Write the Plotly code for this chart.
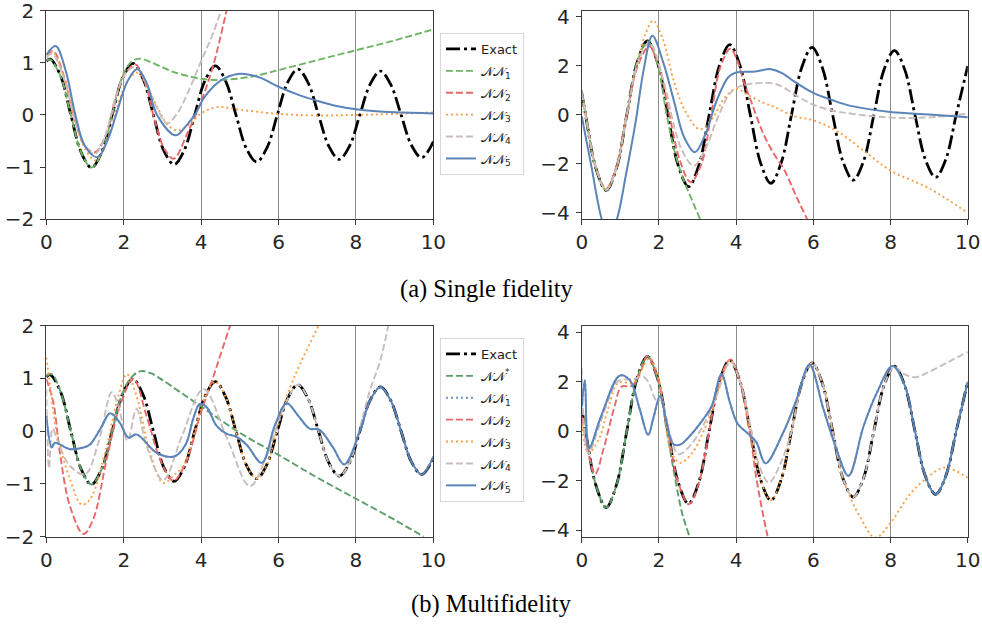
import plotly.graph_objects as go

# ---------------- data ----------------
x_exact = [0.0, 0.1, 0.367, 0.633, 0.9, 1.167, 1.433, 1.7, 1.967, 2.233, 2.5, 2.767, 3.033, 3.3,
           3.567, 3.833, 4.1, 4.367, 4.633, 4.9, 5.167, 5.433, 5.7, 5.967, 6.233, 6.5, 6.767,
           7.033, 7.3, 7.567, 7.833, 8.1, 8.367, 8.633, 8.9, 9.167, 9.433, 9.7, 10.0]
pos_exact = [1.03, 1.07, 0.75, 0.0, -0.72, -1.01, -0.71, 0.0, 0.70, 0.99, 0.69, 0.0, -0.68, -0.95,
             -0.67, 0.0, 0.66, 0.94, 0.65, 0.0, -0.64, -0.90, -0.63, 0.0, 0.62, 0.88, 0.61,
             0.0, -0.60, -0.85, -0.60, 0.0, 0.59, 0.84, 0.58, 0.0, -0.58, -0.82, -0.51]
vel_exact = [0.9, 0.0, -2.18, -3.08, -2.17, 0.0, 2.13, 3.02, 2.12, 0.0, -2.07, -2.93, -2.06, 0.0,
             2.02, 2.87, 2.01, 0.0, -1.96, -2.79, -1.95, 0.0, 1.94, 2.76, 1.93, 0.0, -1.9,
             -2.66, -1.89, 0.0, 1.86, 2.63, 1.85, 0.0, -1.81, -2.55, -1.8, 0.0, 2.0]

# (a) Single fidelity - position
sf_pos_nn1_x = [0.0, 0.1, 0.367, 0.633, 0.9, 1.167, 1.433, 1.7, 1.967, 2.2, 2.43, 2.7, 3.0, 3.3, 3.64,
                4.02, 4.41, 5.0, 5.53, 6.0, 7.0, 8.0, 9.0, 10.0]
sf_pos_nn1_y = [1.04, 1.06, 0.74, 0.0, -0.72, -1.01, -0.72, 0.0, 0.74, 1.02, 1.08, 1.01, 0.91, 0.82, 0.75,
                0.69, 0.67, 0.7, 0.77, 0.86, 1.05, 1.24, 1.43, 1.64]
sf_pos_nn2_x = [0.0, 0.18, 0.45, 0.7, 1.0, 1.25, 1.5, 1.8, 2.05, 2.3, 2.55, 2.8, 3.05, 3.29, 3.64, 4.02, 4.32, 4.67]
sf_pos_nn2_y = [1.15, 1.22, 0.75, 0.0, -0.6, -0.72, -0.45, 0.35, 0.8, 0.97, 0.62, -0.1, -0.65, -0.84, -0.36, 0.3, 0.97, 2.05]
sf_pos_nn3_x = [0.0, 0.15, 0.45, 0.75, 1.0, 1.27, 1.55, 1.85, 2.1, 2.35, 2.6, 2.9, 3.15, 3.4, 3.72, 3.98,
                4.41, 5.0, 6.0, 7.0, 8.0, 9.0, 10.0]
sf_pos_nn3_y = [1.16, 1.22, 0.75, -0.1, -0.65, -0.87, -0.55, 0.2, 0.65, 0.81, 0.55, 0.1, -0.2, -0.3, -0.17, 0.02,
                0.15, 0.1, 0.02, -0.01, 0.0, 0.02, 0.05]
sf_pos_nn4_x = [0.0, 0.15, 0.45, 0.75, 1.0, 1.25, 1.5, 1.8, 2.05, 2.3, 2.55, 2.85, 3.12, 3.4, 3.64, 4.02, 4.3, 4.54]
sf_pos_nn4_y = [1.1, 1.17, 0.72, -0.12, -0.6, -0.75, -0.45, 0.35, 0.8, 0.92, 0.65, 0.15, -0.16, 0.05, 0.4, 1.07, 1.55, 2.05]
sf_pos_nn5_x = [0.0, 0.24, 0.5, 0.75, 1.0, 1.32, 1.6, 1.8, 2.1, 2.35, 2.6, 2.86, 3.34, 3.6, 3.85, 4.05,
                4.3, 4.6, 5.0, 5.5, 6.0, 6.5, 7.0, 7.5, 8.0, 9.0, 10.0]
sf_pos_nn5_y = [1.15, 1.32, 0.85, 0.0, -0.6, -0.81, -0.45, 0.0, 0.65, 0.88, 0.6, 0.0, -0.39, -0.22, 0.02, 0.3,
                0.53, 0.7, 0.79, 0.72, 0.54, 0.39, 0.27, 0.17, 0.11, 0.05, 0.03]

# (a) Single fidelity - velocity
sf_vel_nn1_x = [0.0, 0.1, 0.367, 0.633, 0.9, 1.167, 1.433, 1.7, 1.967, 2.2, 2.45, 2.65, 2.85, 3.07, 3.2]
sf_vel_nn1_y = [1.0, 0.05, -2.18, -3.08, -2.17, 0.0, 2.13, 3.0, 2.05, 0.0, -1.75, -2.7, -3.45, -4.27, -4.75]
sf_vel_nn2_x = [0.0, 0.1, 0.367, 0.633, 0.9, 1.167, 1.45, 1.75, 2.0, 2.27, 2.55, 2.82, 3.1, 3.35, 3.6, 3.85,
                4.0, 4.2, 4.4, 4.7, 5.0, 5.25, 5.55, 5.9]
sf_vel_nn2_y = [0.9, 0.0, -2.15, -3.0, -2.1, 0.0, 2.0, 2.8, 2.0, 0.0, -1.9, -2.75, -2.0, 0.0, 2.0, 2.7,
                2.35, 1.35, 0.5, -0.75, -1.65, -2.25, -3.3, -4.45]
sf_vel_nn3_x = [0.0, 0.1, 0.367, 0.633, 0.9, 1.167, 1.45, 1.65, 1.85, 2.1, 2.4, 2.7, 3.06, 3.4, 3.7, 4.0,
                4.3, 4.7, 5.0, 5.5, 6.0, 6.6, 7.3, 8.0, 9.0, 10.0]
sf_vel_nn3_y = [0.9, 0.0, -2.15, -3.05, -2.15, 0.0, 2.2, 3.3, 3.85, 3.1, 1.3, 0.1, -0.59, -0.1, 0.7, 1.07,
                0.82, 0.5, 0.32, -0.05, -0.22, -0.65, -1.45, -2.27, -3.0, -4.0]
sf_vel_nn4_x = [0.0, 0.1, 0.367, 0.633, 0.9, 1.167, 1.45, 1.75, 2.1, 2.4, 2.6, 2.9, 3.2, 3.5, 3.8, 4.0,
                4.3, 4.9, 5.2, 5.5, 6.0, 6.5, 7.0, 8.0, 9.0, 10.0]
sf_vel_nn4_y = [0.9, 0.0, -2.15, -3.05, -2.15, 0.0, 2.1, 2.95, 1.5, -0.5, -1.45, -2.08, -1.4, -0.2, 0.8, 1.1,
                1.25, 1.3, 1.15, 0.85, 0.42, 0.18, 0.05, -0.11, -0.1, 0.05]
sf_vel_nn5_x = [0.0, 0.25, 0.52, 0.71, 0.91, 1.15, 1.4, 1.6, 1.83, 2.1, 2.4, 2.65, 2.93, 3.2, 3.5, 3.8,
                4.0, 4.5, 4.9, 5.2, 5.5, 6.0, 6.5, 7.0, 8.0, 9.0, 10.0]
sf_vel_nn5_y = [-0.05, -2.1, -4.27, -5.0, -4.27, -2.4, -0.25, 1.8, 3.23, 2.2, 0.5, -0.9, -1.52, -0.8, 0.6, 1.55,
                1.73, 1.77, 1.87, 1.7, 1.37, 0.9, 0.6, 0.36, 0.12, 0.02, -0.09]

# (b) Multifidelity - position
mf_pos_nns_x = [0.0, 0.14, 0.367, 0.633, 0.9, 1.167, 1.433, 1.7, 1.967, 2.233, 2.45, 2.7, 3.0, 3.5, 4.0,
                5.0, 6.0, 7.0, 8.0, 9.0, 9.75]
mf_pos_nns_y = [1.04, 1.08, 0.75, 0.0, -0.72, -1.01, -0.71, 0.0, 0.72, 1.05, 1.14, 1.1, 0.97, 0.72, 0.47,
                -0.03, -0.45, -0.88, -1.28, -1.68, -2.0]
mf_pos_nn2_x = [0.0, 0.18, 0.35, 0.61, 0.96, 1.21, 1.56, 1.9, 2.25, 2.59, 2.94, 3.28, 3.6, 4.0, 4.3, 4.5, 4.77]
mf_pos_nn2_y = [0.99, 0.55, -0.41, -1.42, -1.95, -1.67, -0.53, 0.48, 0.99, 0.29, -0.53, -0.94, -0.6, 0.37, 1.0, 1.45, 2.05]
mf_pos_nn3_x = [0.0, 0.1, 0.27, 0.61, 0.91, 1.13, 1.56, 1.86, 2.08, 2.33, 2.68, 3.02, 3.28, 3.567, 3.833,
                4.1, 4.367, 4.633, 4.9, 5.167, 5.433, 5.7, 5.967, 6.233, 6.56, 7.07]
mf_pos_nn3_y = [1.4, 0.86, -0.03, -0.91, -1.39, -1.29, -0.28, 0.67, 1.08, 0.67, -0.41, -0.98, -0.85, -0.62, 0.0,
                0.66, 0.94, 0.65, 0.0, -0.64, -0.9, -0.63, 0.05, 0.7, 1.28, 2.05]
mf_pos_nn4_x = [0.0, 0.07, 0.16, 0.3, 0.6, 1.0, 1.35, 1.69, 1.87, 2.1, 2.33, 2.6, 3.02, 3.5, 4.06, 4.66,
                5.26, 5.7, 6.12, 6.5, 6.767, 7.033, 7.3, 7.567, 7.833, 8.1, 8.35, 8.62, 8.85]
mf_pos_nn4_y = [0.8, -0.7, 0.05, -0.2, -0.65, -0.82, -0.2, 0.74, 0.45, -0.18, 0.42, -0.3, -0.93, -0.1, 0.8, -0.12,
                -1.04, -0.45, 0.42, 0.88, 0.61, 0.0, -0.6, -0.85, -0.6, 0.05, 0.75, 1.32, 2.05]
mf_pos_nn5_x = [0.0, 0.14, 0.22, 0.61, 0.96, 1.13, 1.4, 1.65, 1.9, 2.12, 2.33, 2.85, 3.3, 3.6, 3.8, 3.97,
                4.15, 4.4, 4.66, 4.9, 5.18, 5.57, 5.9, 6.21, 6.5, 6.8, 7.05, 7.4, 7.7, 8.1, 8.367,
                8.633, 8.9, 9.167, 9.433, 9.7, 10.0]
mf_pos_nn5_y = [0.29, -0.31, -0.22, -0.34, -0.31, -0.25, 0.05, 0.34, 0.16, -0.12, -0.06, -0.41, -0.48, -0.25, 0.25, 0.52,
                0.45, 0.1, -0.05, -0.1, -0.26, -0.6, 0.1, 0.53, 0.3, 0.05, 0.03, -0.3, -0.63, 0.0, 0.59,
                0.84, 0.58, 0.0, -0.58, -0.82, -0.48]
# NN1 is not visible in the reference: it lies underneath the NN5 curve
mf_pos_nn1_x = mf_pos_nn5_x
mf_pos_nn1_y = mf_pos_nn5_y

# (b) Multifidelity - velocity
mf_vel_nns_x = [0.0, 0.1, 0.367, 0.633, 0.9, 1.167, 1.433, 1.7, 1.967, 2.2, 2.4, 2.6, 2.8, 2.9]
mf_vel_nns_y = [0.95, 0.0, -2.18, -3.08, -2.17, 0.0, 2.13, 3.02, 2.1, 0.05, -1.75, -3.3, -4.3, -4.8]
mf_vel_nn2_x = [0.0, 0.1, 0.35, 0.55, 0.7, 0.85, 1.03, 1.29, 1.5, 1.7, 1.967, 2.233, 2.5, 2.78, 3.05, 3.3,
                3.567, 3.85, 4.1, 4.35, 4.53, 4.78, 4.9]
mf_vel_nn2_y = [0.6, -0.3, -1.72, -0.8, 0.1, 1.0, 1.8, 1.82, 2.3, 3.04, 2.12, 0.0, -2.07, -2.95, -2.0, 0.0,
                2.02, 2.9, 2.0, 0.0, -1.96, -4.0, -4.8]
mf_vel_nn3_x = [0.0, 0.17, 0.45, 0.7, 0.95, 1.34, 1.55, 1.76, 2.0, 2.33, 2.55, 2.85, 3.1, 3.4, 3.6, 3.85,
                4.1, 4.367, 4.633, 4.9, 5.167, 5.433, 5.7, 5.967, 6.233, 6.5, 6.767, 6.95, 7.2, 7.6,
                8.0, 8.5, 9.0, 9.4, 10.0]
mf_vel_nn3_y = [0.3, -0.88, -0.3, 1.0, 1.96, 1.96, 2.5, 2.95, 2.1, -0.88, -1.28, -0.9, -0.2, 1.0, 2.0, 2.88,
                2.0, 0.0, -1.96, -2.79, -1.95, 0.0, 1.94, 2.76, 1.93, 0.0, -1.9, -2.65, -3.43, -4.3,
                -3.7, -2.55, -1.81, -1.47, -1.88]
mf_vel_nn4_x = [0.0, 0.17, 0.45, 0.7, 0.95, 1.34, 1.6, 1.72, 1.95, 2.05, 2.3, 2.5, 2.8, 3.1, 3.45, 3.85,
                4.1, 4.4, 4.6, 4.85, 5.15, 5.433, 5.7, 5.967, 6.233, 6.5, 6.767, 7.033, 7.3, 7.567,
                7.833, 8.1, 8.3, 8.64, 9.0, 9.5, 10.0]
mf_vel_nn4_y = [2.55, -0.88, 0.2, 1.3, 2.03, 2.1, 2.2, 2.0, 1.2, 1.25, -0.2, -0.93, -0.6, 0.1, 1.25, 2.8,
                2.0, 0.0, -1.4, -2.08, -1.3, 0.0, 1.94, 2.76, 1.93, 0.0, -1.9, -2.66, -1.89, 0.0,
                1.86, 2.6, 2.35, 2.18, 2.4, 2.8, 3.2]
mf_vel_nn5_x = [0.0, 0.08, 0.19, 0.5, 0.99, 1.25, 1.5, 1.72, 1.85, 2.03, 2.2, 2.37, 2.55, 2.8, 3.15, 3.37,
                3.62, 3.84, 4.04, 4.35, 4.53, 4.76, 5.22, 5.57, 5.9, 6.26, 6.6, 6.91, 7.3, 7.65,
                8.05, 8.367, 8.633, 8.9, 9.167, 9.433, 9.7, 10.0]
mf_vel_nn5_y = [1.0, 2.05, -0.68, 0.6, 2.25, 2.05, 0.9, -0.15, 0.5, 1.42, 0.35, -0.52, -0.54, -0.19, 0.49, 1.03,
                2.3, 1.15, 0.3, -0.15, -0.46, -1.3, -0.05, 1.3, 2.68, 0.9, -0.73, -1.8, 0.2, 1.57,
                2.63, 1.85, 0.0, -1.81, -2.55, -1.8, 0.0, 2.0]
mf_vel_nn1_x = mf_vel_nn5_x
mf_vel_nn1_y = mf_vel_nn5_y

x_ticks = [0, 2, 4, 6, 8, 10]
pos_ticks = [-2, -1, 0, 1, 2]
vel_ticks = [-4, -2, 0, 2, 4]

# ---------------- styles ----------------
NN = "\U0001D4A9\U0001D4A9"
S_EXACT = dict(color="#000000", width=2.8, dash="14px,4px,3px,4px")
S_GREEN = dict(color="#6db463", width=1.9, dash="7px,3px")
S_GREEN2 = dict(color="#5c9f6a", width=1.9, dash="7px,3px")
S_BLUEDOT = dict(color="#6f93c6", width=1.9, dash="2px,3px")
S_RED = dict(color="#e8686a", width=1.9, dash="7px,3px")
S_ORANGE = dict(color="#f8a048", width=1.9, dash="2px,3px")
S_GRAY = dict(color="#c9bdbc", width=1.9, dash="7px,3px")
S_BLUE = dict(color="#5b84b8", width=2.0, dash="solid")

fig = go.Figure()


def add(x, y, name, style, ax, legend, show):
    fig.add_trace(go.Scatter(
        x=x, y=y, mode="lines", name=name, line=dict(shape="spline", smoothing=1.0, **style),
        xaxis="x" + ax, yaxis="y" + ax, legend=legend, showlegend=show,
        legendgroup=legend + name, hoverinfo="skip"))


top = [
    ("Exact", x_exact, pos_exact, x_exact, vel_exact, S_EXACT),
    (NN + "<sub>1</sub>", sf_pos_nn1_x, sf_pos_nn1_y, sf_vel_nn1_x, sf_vel_nn1_y, S_GREEN),
    (NN + "<sub>2</sub>", sf_pos_nn2_x, sf_pos_nn2_y, sf_vel_nn2_x, sf_vel_nn2_y, S_RED),
    (NN + "<sub>3</sub>", sf_pos_nn3_x, sf_pos_nn3_y, sf_vel_nn3_x, sf_vel_nn3_y, S_ORANGE),
    (NN + "<sub>4</sub>", sf_pos_nn4_x, sf_pos_nn4_y, sf_vel_nn4_x, sf_vel_nn4_y, S_GRAY),
    (NN + "<sub>5</sub>", sf_pos_nn5_x, sf_pos_nn5_y, sf_vel_nn5_x, sf_vel_nn5_y, S_BLUE),
]
for name, xp, yp, xv, yv, st in top:
    add(xp, yp, name, st, "", "legend", True)
    add(xv, yv, name, st, "2", "legend", False)

bottom = [
    ("Exact", x_exact, pos_exact, x_exact, vel_exact, S_EXACT),
    (NN + "<sup>*</sup>", mf_pos_nns_x, mf_pos_nns_y, mf_vel_nns_x, mf_vel_nns_y, S_GREEN2),
    (NN + "<sub>1</sub>", mf_pos_nn1_x, mf_pos_nn1_y, mf_vel_nn1_x, mf_vel_nn1_y, S_BLUEDOT),
    (NN + "<sub>2</sub>", mf_pos_nn2_x, mf_pos_nn2_y, mf_vel_nn2_x, mf_vel_nn2_y, S_RED),
    (NN + "<sub>3</sub>", mf_pos_nn3_x, mf_pos_nn3_y, mf_vel_nn3_x, mf_vel_nn3_y, S_ORANGE),
    (NN + "<sub>4</sub>", mf_pos_nn4_x, mf_pos_nn4_y, mf_vel_nn4_x, mf_vel_nn4_y, S_GRAY),
    (NN + "<sub>5</sub>", mf_pos_nn5_x, mf_pos_nn5_y, mf_vel_nn5_x, mf_vel_nn5_y, S_BLUE),
]
for name, xp, yp, xv, yv, st in bottom:
    add(xp, yp, name, st, "3", "legend2", True)
    add(xv, yv, name, st, "4", "legend2", False)

FONT = "DejaVu Sans"
AX = dict(showline=True, mirror=True, linecolor="#3a3a3a", linewidth=1, ticks="outside",
          ticklen=5, tickwidth=1, tickcolor="#3a3a3a", zeroline=False, automargin=False,
          ticklabeloverflow="allow",
          tickfont=dict(family=FONT, size=20, color="#262626"), fixedrange=True)
XAX = dict(AX, range=[0, 10], tickvals=x_ticks, showgrid=True, gridcolor="#8c8c8c", gridwidth=1)
YP = dict(AX, range=[-2, 2], tickvals=pos_ticks, showgrid=False, ticklabelstandoff=2)
YV = dict(AX, range=[-4.26, 4.26], tickvals=vel_ticks, showgrid=False, ticklabelstandoff=2)

LX = [0.0472, 0.4413]
RX = [0.5924, 0.9855]
TY = [0.6486, 0.9830]
BY = [0.1399, 0.4780]

LEG = dict(xanchor="left", yanchor="top", bgcolor="white", bordercolor="#d6d6d6", borderwidth=1,
           font=dict(family=FONT, size=13, color="#222"), itemwidth=30, tracegroupgap=2,
           traceorder="grouped")

fig.update_layout(
    width=982, height=624, margin=dict(l=0, r=0, t=0, b=0, autoexpand=False),
    paper_bgcolor="white", plot_bgcolor="white",
    xaxis=dict(XAX, domain=LX, anchor="y"),
    yaxis=dict(YP, domain=TY, anchor="x"),
    xaxis2=dict(XAX, domain=RX, anchor="y2"),
    yaxis2=dict(YV, domain=TY, anchor="x2"),
    xaxis3=dict(XAX, domain=LX, anchor="y3"),
    yaxis3=dict(YP, domain=BY, anchor="x3"),
    xaxis4=dict(XAX, domain=RX, anchor="y4"),
    yaxis4=dict(YV, domain=BY, anchor="x4"),
    legend=dict(LEG, x=440 / 982, y=1 - 33 / 624),
    legend2=dict(LEG, x=440 / 982, y=1 - 338 / 624),
    annotations=[
        dict(text="(a) Single fidelity", x=487 / 982, y=1 - 289 / 624, xref="paper", yref="paper",
             showarrow=False, xanchor="center", yanchor="middle",
             font=dict(family="Liberation Serif", size=24.5, color="black")),
        dict(text="(b) Multifidelity", x=491 / 982, y=1 - 604 / 624, xref="paper", yref="paper",
             showarrow=False, xanchor="center", yanchor="middle",
             font=dict(family="Liberation Serif", size=24.5, color="black")),
    ],
)

fig.write_html("out.html")
